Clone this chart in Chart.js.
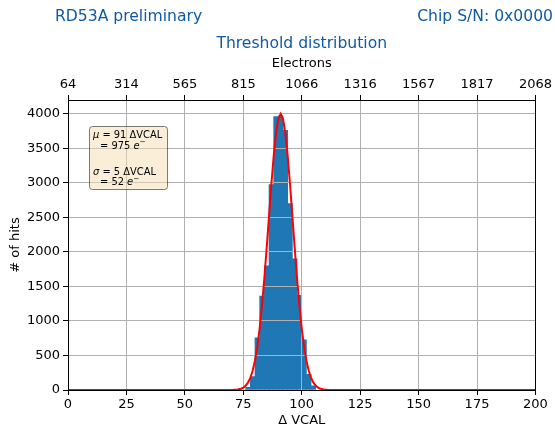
<!DOCTYPE html>
<html><head><meta charset="utf-8">
<script src="https://cdn.jsdelivr.net/npm/chart.js@4/dist/chart.umd.min.js"></script>
<style>html,body{margin:0;padding:0;background:#fff;}canvas{display:block;}</style>
</head><body>
<canvas id="c" width="555" height="431"></canvas>
<script>
// ---- data ----
const binCenters = [77, 79, 81, 83, 85, 87, 89, 91, 93, 95, 97, 99, 101, 103, 105];
const binCounts  = [39, 196, 755, 1360, 1800, 2976, 3961, 3970, 3760, 2700, 1900, 1370, 725, 228, 60];
const fitX = [0, 70, 71, 72, 73, 74, 75, 76, 77, 78, 79, 80, 81, 82, 83, 84, 85, 86, 87, 88, 89, 90,
              91, 92, 93, 94, 95, 96, 97, 98, 99, 100, 101, 102, 103, 104, 105, 106, 107, 108, 109, 110, 111, 112, 200];
const fitY = [0, 1, 2, 5, 10, 19, 35, 62, 107, 176, 279, 427, 629, 894, 1225, 1616, 2056, 2519, 2976, 3387, 3715, 3927,
              4000, 3927, 3715, 3387, 2976, 2519, 2056, 1616, 1225, 894, 629, 427, 279, 176, 107, 62, 35, 19, 10, 5, 2, 1, 0];
const xTickValues = [0, 25, 50, 75, 100, 125, 150, 175, 200];
const yTickValues = [0, 500, 1000, 1500, 2000, 2500, 3000, 3500, 4000];
const electronTickLabels = ['64', '314', '565', '815', '1066', '1316', '1567', '1817', '2068'];
const fitMu = 91, fitMuElectrons = 975, fitSigma = 5, fitSigmaElectrons = 52;
const titleLeft = 'RD53A preliminary';
const titleRight = 'Chip S/N: 0x0000';
const titleMain = 'Threshold distribution';
const xAxisTitle = '\u0394 VCAL';
const x2AxisTitle = 'Electrons';
const yAxisTitle = '# of hits';

const FONT = 'DejaVu Sans';
Chart.defaults.font.family = FONT;
Chart.defaults.font.size = 13;
Chart.defaults.color = '#000';

const BLUE = '#0f5aa6';

function alignPx(p) { return Math.round(p - 0.5) + 0.5; }

const overlay = {
  id: 'overlay',
  beforeDatasetDraw(chart, args) {
    if (args.index === 1 && !chart.$fitPass) return false;
  },
  afterDraw(chart) {
    const ctx = chart.ctx, a = chart.chartArea;
    // fit curve above the grid
    ctx.save();
    ctx.beginPath(); ctx.rect(a.left, a.top, a.right - a.left, a.bottom - a.top); ctx.clip();
    chart.$fitPass = true;
    chart.getDatasetMeta(1).controller.draw();
    chart.$fitPass = false;
    ctx.restore();
    // frame
    ctx.save();
    ctx.strokeStyle = '#000'; ctx.lineWidth = 1;
    const l = alignPx(a.left), r = alignPx(a.right), t = alignPx(a.top), b = alignPx(a.bottom);
    ctx.strokeRect(l, t, r - l, b - t);
    ctx.restore();
    // titles
    ctx.save();
    ctx.fillStyle = BLUE; ctx.textBaseline = 'middle';
    ctx.font = '15.6px "' + FONT + '"';
    ctx.textAlign = 'left'; ctx.fillText(titleLeft, 55, 17);
    ctx.textAlign = 'right'; ctx.fillText(titleRight, 553, 17);
    ctx.textAlign = 'center'; ctx.fillText(titleMain, (a.left + a.right) / 2, 43.5);
    ctx.restore();
    // annotation box
    ctx.save();
    const bx = 89.5, by = 126.5, bw = 78, bh = 63;
    ctx.beginPath();
    ctx.roundRect(bx, by, bw, bh, 3);
    ctx.fillStyle = 'rgba(245,222,179,0.5)'; ctx.fill();
    ctx.strokeStyle = 'rgba(0,0,0,0.5)'; ctx.lineWidth = 1; ctx.stroke();
    const fs = 9.9;
    function runs(x, y, parts) {
      ctx.textAlign = 'left'; ctx.textBaseline = 'middle'; ctx.fillStyle = '#000';
      for (const p of parts) {
        const size = p.sup ? 7.2 : fs;
        ctx.font = (p.it ? 'italic ' : '') + size + 'px "' + FONT + '"';
        ctx.fillText(p.t, x, y + (p.sup ? -3.5 : 0));
        x += ctx.measureText(p.t).width;
      }
    }
    runs(93, 135.5, [{t: '\u03BC', it: true}, {t: ' = ' + fitMu + ' \u0394VCAL'}]);
    runs(100, 146, [{t: '= ' + fitMuElectrons + ' '}, {t: 'e', it: true}, {t: '\u2212', sup: true}]);
    runs(93, 172, [{t: '\u03C3', it: true}, {t: ' = ' + fitSigma + ' \u0394VCAL'}]);
    runs(100, 182.7, [{t: '= ' + fitSigmaElectrons + ' '}, {t: 'e', it: true}, {t: '\u2212', sup: true}]);
    ctx.restore();
  }
};

const setTicks = vals => s => { s.ticks = vals.map(v => ({value: v})); };

new Chart(document.getElementById('c'), {
  type: 'bar',
  data: {
    datasets: [
      {
        type: 'bar',
        data: binCenters.map((x, i) => ({x: x, y: binCounts[i]})),
        backgroundColor: '#1f77b4',
        borderWidth: 0,
        barPercentage: 1.0,
        categoryPercentage: 1.0,
        xAxisID: 'x', yAxisID: 'y',
        order: 2
      },
      {
        type: 'line',
        data: fitX.map((x, i) => ({x: x, y: fitY[i]})),
        borderColor: '#ff0000',
        borderWidth: 2,
        pointRadius: 0,
        tension: 0,
        fill: false,
        xAxisID: 'x', yAxisID: 'y',
        order: 1
      }
    ]
  },
  options: {
    responsive: false,
    animation: false,
    devicePixelRatio: 1,
    layout: {padding: {left: 0, right: 17, top: 0, bottom: 0}},
    plugins: {legend: {display: false}, tooltip: {enabled: false}, title: {display: false}},
    scales: {
      x: {
        type: 'linear', position: 'bottom', min: 0, max: 200, offset: false,
        grid: {offset: false, color: '#b0b0b0', lineWidth: 1, tickColor: '#000', tickLength: 5, tickWidth: 1, z: 1},
        border: {display: false},
        afterBuildTicks: setTicks(xTickValues),
        ticks: {padding: 2, maxRotation: 0, autoSkip: false, color: '#000', font: {size: 13}, callback: v => String(v)},
        title: {display: true, text: xAxisTitle, color: '#000', font: {size: 13}, padding: {top: 0, bottom: 2.2}},
        afterFit: s => { s.height = 41; }
      },
      x2: {
        type: 'linear', position: 'top', min: 0, max: 200, offset: false,
        grid: {drawOnChartArea: false, offset: false, tickColor: '#000', tickLength: 5, tickWidth: 1, z: 1},
        border: {display: false},
        afterBuildTicks: setTicks(xTickValues),
        ticks: {padding: 3, maxRotation: 0, autoSkip: false, color: '#000', font: {size: 13},
                callback: (v, i) => electronTickLabels[i]},
        title: {display: true, text: x2AxisTitle, color: '#000', font: {size: 13}, padding: {top: 56, bottom: 0}},
        afterFit: s => { s.height = 100; }
      },
      y: {
        type: 'linear', position: 'left', min: 0, max: 4200,
        grid: {color: '#b0b0b0', lineWidth: 1, tickColor: '#000', tickLength: 5, tickWidth: 1, z: 1},
        border: {display: false},
        afterBuildTicks: setTicks(yTickValues),
        ticks: {padding: 3, autoSkip: false, color: '#000', font: {size: 13}, callback: v => String(v)},
        title: {display: true, text: yAxisTitle, color: '#000', font: {size: 13}, padding: {top: 7.5, bottom: 0}},
        afterFit: s => { s.width = 68; }
      }
    }
  },
  plugins: [overlay]
});
</script>
</body></html>
